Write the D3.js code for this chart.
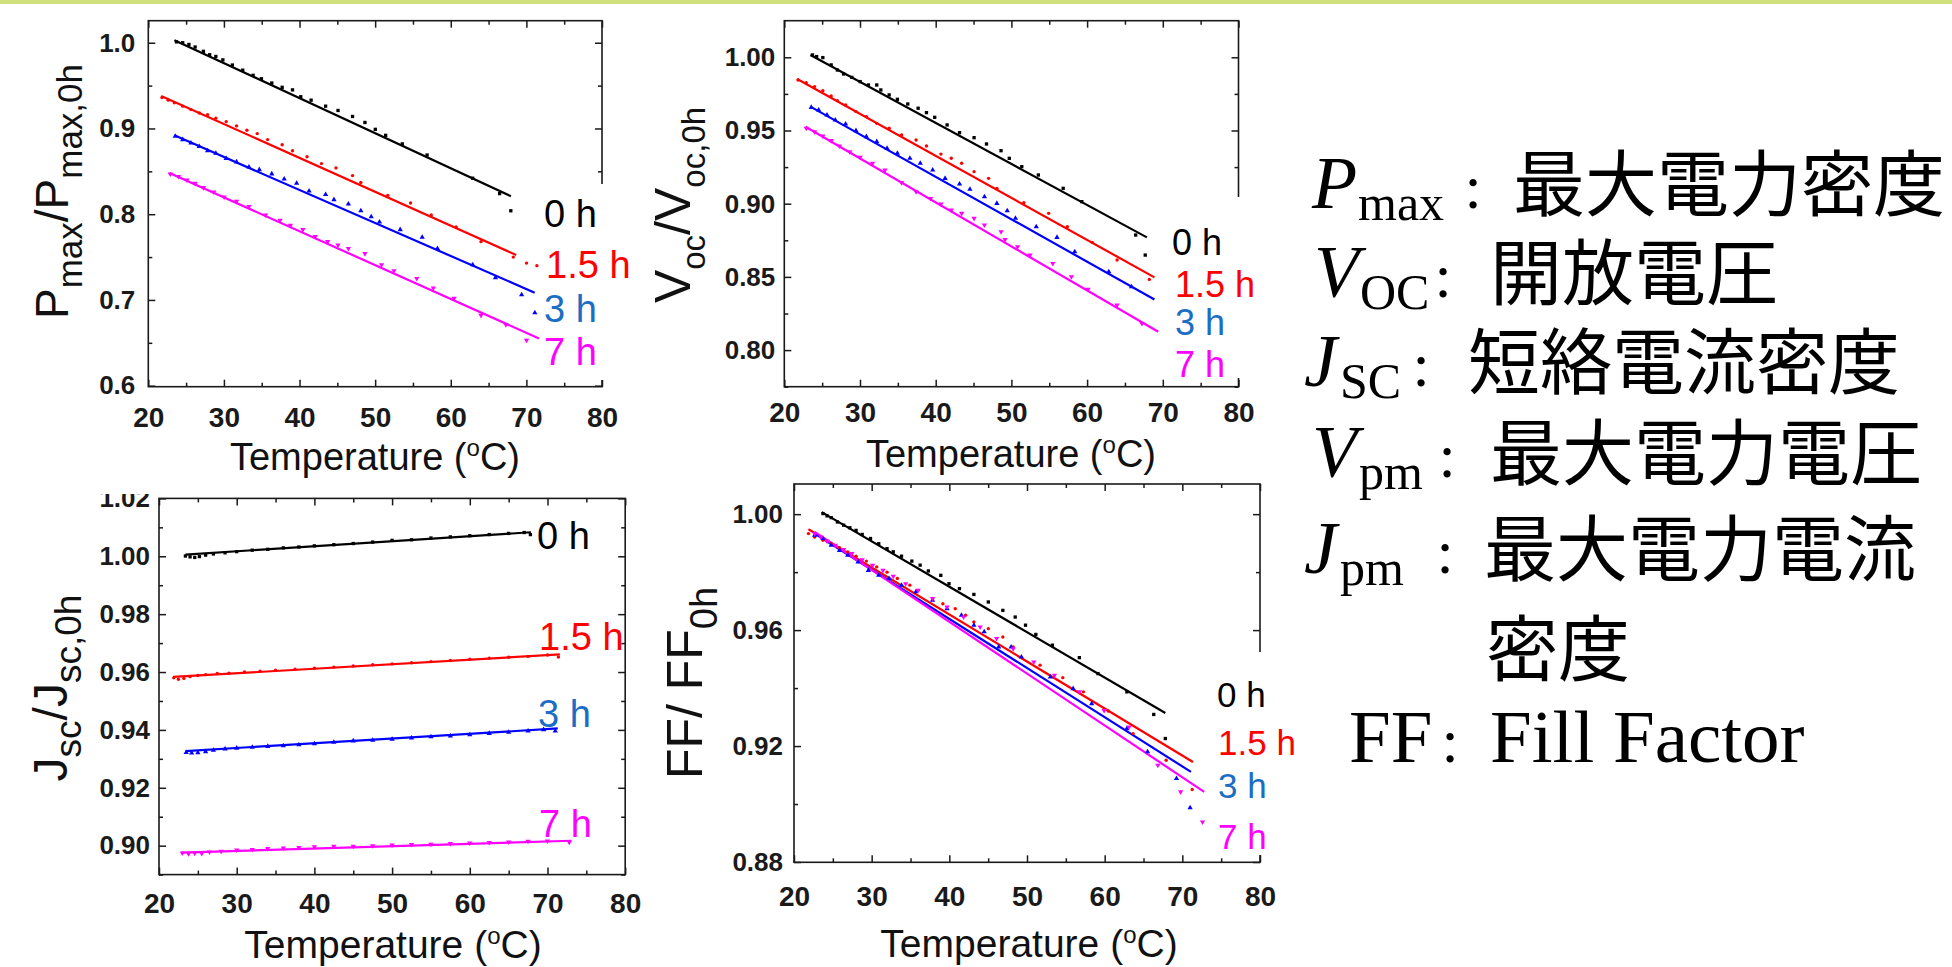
<!DOCTYPE html>
<html>
<head>
<meta charset="utf-8">
<script src="https://cdn.jsdelivr.net/npm/d3@7"></script>
<style>
    body { margin: 0; background: #fff; }
    svg { display: block; }
</style>
</head>
<body>
<svg id="chart" width="1952" height="967"></svg>
<script>

// ---- shared axis values
const xTicks = [20, 30, 40, 50, 60, 70, 80]
const xMinor = [25, 35, 45, 55, 65, 75]
const seriesNames = ['0 h', '1.5 h', '3 h', '7 h']
const lineColors = ['#000000', '#ff0000', '#0000ff', '#ff00ff']
const labelColors = ['#000000', '#ff0000', '#1c6dc4', '#ff00ff']

// ---- Pmax / Pmax,0h
const pmaxTicks = [0.6, 0.7, 0.8, 0.9, 1.0]
const pmaxMinor = [0.65, 0.75, 0.85, 0.95]
const pmaxFits = [
    [[23.45, 1.003], [67.95, 0.821]],
    [[21.7, 0.938], [68.65, 0.7524]],
    [[23.45, 0.892], [71.1, 0.7085]],
    [[22.8, 0.848], [71.67, 0.655]]
]
const pmax0h = [[23.73,1.001],[24.55,1.000],[25.37,0.998],[26.19,0.995],[27.29,0.990],[28.11,0.986],[28.93,0.984],[29.86,0.980],[31.12,0.974],[32.49,0.968],[33.86,0.962],[34.96,0.958],[36.33,0.953],[37.70,0.948],[39.07,0.945],[40.16,0.937],[41.53,0.933],[43.45,0.926],[45.09,0.921],[47.01,0.914],[48.65,0.907],[50.02,0.899],[51.39,0.892],[53.59,0.882],[56.87,0.869],[62.90,0.842],[66.46,0.824],[67.94,0.804]]
const pmax15h = [[21.81,0.936],[22.63,0.933],[23.45,0.930],[24.55,0.926],[25.64,0.922],[26.74,0.918],[27.84,0.916],[28.93,0.912],[30.30,0.908],[31.67,0.903],[33.04,0.898],[34.41,0.894],[35.78,0.887],[37.70,0.881],[39.07,0.874],[40.99,0.867],[42.90,0.859],[44.82,0.854],[47.01,0.845],[48.11,0.837],[51.67,0.822],[54.68,0.813],[57.42,0.799],[60.71,0.785],[64.00,0.768],[68.27,0.750],[70.02,0.743],[71.39,0.740]]
const pmax3h = [[23.56,0.891],[24.55,0.887],[25.64,0.883],[26.74,0.879],[27.84,0.874],[28.93,0.871],[30.30,0.865],[31.67,0.861],[33.31,0.855],[34.68,0.852],[36.33,0.847],[37.97,0.841],[39.62,0.836],[41.26,0.827],[43.45,0.823],[44.55,0.817],[46.46,0.812],[48.11,0.804],[49.48,0.797],[50.57,0.791],[53.31,0.782],[56.22,0.773],[58.24,0.760],[62.90,0.741],[65.91,0.726],[69.37,0.706],[71.12,0.685]]
const pmax7h = [[22.90,0.847],[24.00,0.844],[25.10,0.840],[26.19,0.836],[27.29,0.831],[28.66,0.826],[30.03,0.820],[31.67,0.815],[33.31,0.809],[35.51,0.799],[37.42,0.793],[38.79,0.787],[40.44,0.782],[42.08,0.774],[43.72,0.768],[45.09,0.764],[46.46,0.760],[48.65,0.754],[50.85,0.741],[52.49,0.734],[55.50,0.725],[57.70,0.714],[60.44,0.702],[64.00,0.682],[67.29,0.671],[70.02,0.653]]

// ---- Voc / Voc,0h
const vocTicks = [0.80, 0.85, 0.90, 0.95, 1.00]
const vocMinor = [0.775, 0.825, 0.875, 0.925, 0.975]
const vocFits = [
    [[23.45, 1.0016], [67.9, 0.877]],
    [[21.7, 0.9852], [68.9, 0.8497]],
    [[23.45, 0.9663], [68.9, 0.8346]],
    [[22.8, 0.9526], [69.4, 0.8125]]
]
const voc0h = [[23.72,1.0016],[24.27,1.0005],[25.09,0.9998],[26.19,0.9948],[27.01,0.9913],[27.83,0.9886],[28.92,0.9863],[30.02,0.9834],[31.11,0.9811],[32.21,0.9811],[32.75,0.9777],[33.85,0.9743],[34.94,0.9713],[36.31,0.9681],[37.68,0.9652],[38.78,0.9622],[39.87,0.9590],[41.51,0.9538],[43.15,0.9485],[45.07,0.9451],[46.71,0.9408],[48.63,0.9362],[49.72,0.9310],[51.37,0.9253],[53.56,0.9196],[56.84,0.9105],[59.30,0.9014],[66.42,0.8786],[67.68,0.8649]]
const voc15h = [[21.81,0.9845],[22.90,0.9827],[24.00,0.9800],[25.09,0.9772],[26.19,0.9736],[27.01,0.9704],[28.10,0.9674],[29.47,0.9629],[30.84,0.9595],[32.21,0.9549],[33.85,0.9515],[35.49,0.9469],[37.41,0.9435],[38.78,0.9394],[40.69,0.9339],[42.06,0.9310],[43.43,0.9276],[45.07,0.9219],[46.99,0.9173],[48.08,0.9105],[51.64,0.9007],[54.92,0.8934],[57.39,0.8843],[60.67,0.8736],[63.96,0.8615],[68.22,0.8483]]
const voc3h = [[23.56,0.9658],[24.54,0.9640],[25.64,0.9606],[26.73,0.9572],[28.10,0.9544],[29.47,0.9499],[30.84,0.9458],[32.21,0.9424],[33.58,0.9378],[34.94,0.9344],[36.59,0.9310],[37.96,0.9276],[39.60,0.9230],[41.24,0.9173],[43.15,0.9134],[44.52,0.9098],[46.44,0.9048],[48.08,0.9002],[49.45,0.8952],[50.54,0.8900],[53.28,0.8843],[56.02,0.8770],[58.37,0.8672],[62.86,0.8535],[65.87,0.8433]]
const voc7h = [[22.90,0.9515],[24.00,0.9492],[25.09,0.9462],[26.19,0.9431],[27.28,0.9394],[28.65,0.9355],[30.02,0.9317],[31.66,0.9276],[33.30,0.9230],[35.49,0.9144],[37.41,0.9082],[39.32,0.9036],[40.69,0.8998],[42.06,0.8957],[43.43,0.8934],[45.07,0.8900],[46.44,0.8854],[48.63,0.8809],[49.17,0.8756],[50.82,0.8706],[52.46,0.8649],[55.47,0.8592],[57.93,0.8501],[60.12,0.8415],[63.96,0.8308],[67.24,0.8182]]

// ---- Jsc / Jsc,0h
const jscTicks = [0.90, 0.92, 0.94, 0.96, 0.98, 1.00, 1.02]
const jscMinor = [0.89, 0.91, 0.93, 0.95, 0.97, 0.99, 1.01]
const jscFits = [
    [[23.41, 1.0006], [67.86, 1.0083]],
    [[21.81, 0.9583], [71.59, 0.9661]],
    [[23.41, 0.9327], [71.32, 0.9405]],
    [[22.87, 0.8976], [73.08, 0.9017]]
]
const jsc0h = [[23.4,1.0001],[24.0,0.9998],[24.6,0.9996],[25.2,0.9999],[26.0,1.0004],[27.0,1.0008],[28.5,1.0012],[30.0,1.0016],[32.0,1.0021],[34.0,1.0024],[36.0,1.0029],[38.0,1.0032],[40.0,1.0036],[42.5,1.0040],[45.0,1.0044],[47.5,1.0049],[50.0,1.0055],[52.5,1.0057],[55.0,1.0063],[57.5,1.0067],[60.0,1.0071],[62.5,1.0075],[65.0,1.0079],[67.0,1.0082],[67.8,1.0075]]
const jsc15h = [[21.9,0.9580],[22.5,0.9575],[23.2,0.9578],[24.0,0.9584],[25.0,0.9588],[26.0,0.9591],[27.5,0.9595],[29.0,0.9596],[31.0,0.9600],[33.0,0.9603],[35.0,0.9606],[37.5,0.9610],[40.0,0.9613],[42.5,0.9617],[45.0,0.9621],[47.5,0.9625],[50.0,0.9628],[52.5,0.9632],[55.0,0.9636],[57.5,0.9640],[60.0,0.9644],[62.5,0.9648],[65.0,0.9651],[67.5,0.9654],[70.0,0.9659],[71.4,0.9652]]
const jsc3h = [[23.5,0.9322],[24.2,0.9320],[25.0,0.9321],[26.0,0.9325],[27.0,0.9330],[28.5,0.9334],[30.0,0.9337],[32.0,0.9340],[34.0,0.9343],[36.0,0.9345],[38.0,0.9349],[40.0,0.9352],[42.5,0.9357],[45.0,0.9362],[47.5,0.9364],[50.0,0.9368],[52.5,0.9372],[55.0,0.9376],[57.5,0.9379],[60.0,0.9383],[62.5,0.9388],[65.0,0.9392],[67.5,0.9396],[69.5,0.9401],[71.0,0.9396]]
const jsc7h = [[23.0,0.8975],[23.8,0.8972],[24.6,0.8974],[25.5,0.8973],[26.5,0.8978],[28.0,0.8981],[30.0,0.8985],[32.0,0.8987],[34.0,0.8990],[36.0,0.8992],[38.0,0.8994],[40.0,0.8996],[42.5,0.8998],[45.0,0.8998],[47.5,0.9000],[50.0,0.9002],[52.5,0.9004],[55.0,0.9005],[57.5,0.9007],[60.0,0.9009],[62.5,0.9011],[65.0,0.9013],[67.5,0.9015],[70.0,0.9016],[72.8,0.9012]]

// ---- FF / FF0h
const ffTicks = [0.88, 0.92, 0.96, 1.00]
const ffMinor = [0.90, 0.94, 0.98]
const ffFits = [
    [[23.57, 1.0007], [67.81, 0.9314]],
    [[21.86, 0.9948], [71.37, 0.9145]],
    [[22.66, 0.9933], [71.11, 0.9111]],
    [[22.66, 0.9939], [72.81, 0.9042]]
]
const ff0h = [[23.73,1.0002],[24.26,0.9994],[24.79,0.9988],[25.59,0.9973],[26.39,0.9962],[27.19,0.9953],[27.99,0.9944],[28.78,0.9930],[29.85,0.9916],[30.91,0.9898],[31.98,0.9881],[32.78,0.9870],[33.84,0.9855],[35.17,0.9838],[36.24,0.9824],[37.30,0.9804],[38.90,0.9789],[39.96,0.9760],[41.30,0.9743],[43.16,0.9723],[45.02,0.9697],[46.89,0.9668],[48.48,0.9645],[49.81,0.9617],[51.14,0.9585],[53.27,0.9548],[56.74,0.9505],[59.13,0.9450],[62.86,0.9387],[66.32,0.9309],[67.81,0.9226]]
const ff15h = [[21.86,0.9933],[22.66,0.9921],[23.73,0.9910],[24.79,0.9898],[25.86,0.9884],[26.92,0.9870],[27.99,0.9855],[29.32,0.9838],[30.65,0.9818],[31.98,0.9800],[33.31,0.9778],[34.91,0.9755],[35.97,0.9737],[37.84,0.9709],[39.17,0.9691],[40.76,0.9674],[42.09,0.9651],[43.16,0.9628],[45.02,0.9605],[46.89,0.9576],[48.22,0.9542],[51.68,0.9479],[54.61,0.9436],[57.27,0.9387],[60.46,0.9321],[63.66,0.9243],[67.92,0.9151],[71.27,0.9050]]
const ff3h = [[22.66,0.9927],[23.73,0.9916],[24.79,0.9893],[25.86,0.9875],[26.92,0.9858],[28.25,0.9835],[29.58,0.9806],[30.91,0.9789],[32.24,0.9778],[33.84,0.9755],[35.70,0.9732],[37.84,0.9703],[39.70,0.9674],[41.56,0.9651],[43.16,0.9617],[44.49,0.9594],[46.35,0.9542],[47.95,0.9542],[49.28,0.9507],[53.01,0.9438],[55.94,0.9398],[58.33,0.9346],[62.86,0.9260],[65.52,0.9180],[69.25,0.9088],[71.00,0.8987]]
const ff7h = [[22.66,0.9933],[23.46,0.9921],[24.26,0.9907],[25.32,0.9893],[26.39,0.9878],[27.45,0.9864],[28.78,0.9843],[30.12,0.9824],[31.45,0.9806],[32.78,0.9786],[34.38,0.9760],[35.97,0.9737],[37.84,0.9709],[39.70,0.9680],[41.83,0.9645],[43.96,0.9611],[46.09,0.9571],[48.22,0.9536],[50.88,0.9490],[53.54,0.9444],[56.74,0.9387],[59.93,0.9323],[63.13,0.9266],[66.85,0.9134],[69.78,0.9042],[72.60,0.8938]]

// ---- right hand glossary
const glossSymbols = ['P', 'V', 'J', 'V', 'J']
const glossSubs = ['max', 'OC', 'SC', 'pm', 'pm']
const glossTexts = ['最大電力密度', '開放電圧', '短絡電流密度', '最大電力電圧', '最大電力電流']


const svg = d3.select('#chart')
const sansFont = '"Liberation Sans", Arial, Helvetica, sans-serif'
const serifFont = '"Liberation Serif", "Times New Roman", serif'
const cjkFont = '"Noto Sans CJK JP", "Noto Sans CJK SC", sans-serif'
const axisColor = '#1a1a1a'

// thin green bar on top of the slide
svg.append('rect')
    .attr('x', 0).attr('y', 0)
    .attr('width', 1952).attr('height', 4)
    .attr('fill', '#cfe07c')

const panels = [
    {
        left: 148.3, right: 602, top: 20.7, bottom: 386.7, yDomain: [0.5988, 1.0257],
        ticks: pmaxTicks, minor: pmaxMinor, fmt: '.1f', fits: pmaxFits,
        points: [pmax0h, pmax15h, pmax3h, pmax7h],
        yPad: 13, xPad: 20.4,
        labelPos: [[544, 227], [546, 278], [544, 322], [544, 365]], labelSize: 38,
        cover: [541, 184, 100, 196],
        title: { main1: 'P', sub1: 'max', main2: '/P', sub2: 'max,0h', size: 46, subSize: 35, bx: 68, cy: 191.5 },
        xTitle: [375, 470], xTitleSize: 38
    },
    {
        left: 784.3, right: 1238.5, top: 20.7, bottom: 386.7, yDomain: [0.775, 1.025],
        ticks: vocTicks, minor: vocMinor, fmt: '.2f', fits: vocFits,
        points: [voc0h, voc15h, voc3h, voc7h],
        yPad: 9, xPad: 15.1,
        labelPos: [[1172, 255], [1175, 296.7], [1175, 335], [1175, 376.7]], labelSize: 36,
        cover: [1163, 197, 90, 181],
        title: { main1: 'V', sub1: 'oc', main2: '/V', sub2: 'oc,0h', size: 50, subSize: 33, bx: 690, cy: 205 },
        xTitle: [1011, 466.7], xTitleSize: 38
    },
    {
        left: 159, right: 625.2, top: 498.4, bottom: 874.6, yDomain: [0.89, 1.02],
        ticks: jscTicks, minor: jscMinor, fmt: '.2f', fits: jscFits,
        points: [jsc0h, jsc15h, jsc3h, jsc7h],
        yPad: 9, xPad: 18.5,
        labelPos: [[537, 549], [539, 650], [538, 727], [539, 837]], labelSize: 38,
        cover: null, clipTop: 494,
        title: { main1: 'J', sub1: 'sc', main2: '/J', sub2: 'sc,0h', size: 48, subSize: 37, bx: 67, cy: 688 },
        xTitle: [393, 958], xTitleSize: 39
    },
    {
        left: 794, right: 1260, top: 484, bottom: 862.3, yDomain: [0.8799, 1.0104],
        ticks: ffTicks, minor: ffMinor, fmt: '.2f', fits: ffFits,
        points: [ff0h, ff15h, ff3h, ff7h],
        yPad: 11, xPad: 23.8,
        labelPos: [[1217, 707], [1218, 755], [1218, 798], [1218, 849]], labelSize: 35,
        cover: [1208, 652, 95, 203],
        title: { main1: 'FF/ FF', sub1: '0h', main2: '', sub2: '', size: 50, subSize: 38, bx: 702, cy: 683 },
        xTitle: [1029, 956.7], xTitleSize: 39
    }
]

const symbolTypes = [d3.symbolSquare, d3.symbolCircle, d3.symbolTriangle, d3.symbolTriangle]
const symbolSizes = [11, 9, 12, 12]
const symbolRotate = [0, 0, 0, 180]


function tickMarks(g, axisFn, scale, values, size, transform) {
    g.append('g')
        .attr('transform', transform)
        .call(axisFn(scale).tickValues(values).tickSizeInner(-size).tickSizeOuter(0).tickFormat(''))
        .call(a => a.select('.domain').remove())
        .selectAll('line')
        .attr('stroke', axisColor)
        .attr('stroke-width', 1.5)
}


function drawPanel(p, idx) {

    const g = svg.append('g')

    if (p.clipTop) {
        svg.append('clipPath').attr('id', 'clip' + idx)
            .append('rect')
            .attr('x', 0).attr('y', p.clipTop)
            .attr('width', 1952).attr('height', 967 - p.clipTop)
        g.attr('clip-path', 'url(#clip' + idx + ')')
    }

    const x = d3.scaleLinear().domain([20, 80]).range([p.left, p.right])
    const y = d3.scaleLinear().domain(p.yDomain).range([p.bottom, p.top])

    // frame
    g.append('rect')
        .attr('x', p.left).attr('y', p.top)
        .attr('width', p.right - p.left).attr('height', p.bottom - p.top)
        .attr('fill', 'none')
        .attr('stroke', axisColor)
        .attr('stroke-width', 1.6)

    // inward ticks on all four sides
    tickMarks(g, d3.axisBottom, x, xTicks, 7, `translate(0,${p.bottom})`)
    tickMarks(g, d3.axisBottom, x, xMinor, 4, `translate(0,${p.bottom})`)
    tickMarks(g, d3.axisTop, x, xTicks, 7, `translate(0,${p.top})`)
    tickMarks(g, d3.axisTop, x, xMinor, 4, `translate(0,${p.top})`)
    tickMarks(g, d3.axisLeft, y, p.ticks, 7, `translate(${p.left},0)`)
    tickMarks(g, d3.axisLeft, y, p.minor, 4, `translate(${p.left},0)`)
    tickMarks(g, d3.axisRight, y, p.ticks, 7, `translate(${p.right},0)`)
    tickMarks(g, d3.axisRight, y, p.minor, 4, `translate(${p.right},0)`)

    // tick labels
    g.append('g')
        .attr('transform', `translate(0,${p.bottom})`)
        .call(d3.axisBottom(x).tickValues(xTicks).tickSize(0).tickPadding(p.xPad).tickFormat(d3.format('d')))
        .call(a => a.select('.domain').remove())
        .selectAll('text')
        .attr('font-family', sansFont)
        .attr('font-size', 28)
        .attr('font-weight', 'bold')
        .attr('fill', axisColor)

    g.append('g')
        .attr('transform', `translate(${p.left},0)`)
        .call(d3.axisLeft(y).tickValues(p.ticks).tickSize(0).tickPadding(p.yPad).tickFormat(d3.format(p.fmt)))
        .call(a => a.select('.domain').remove())
        .selectAll('text')
        .attr('font-family', sansFont)
        .attr('font-size', 26)
        .attr('font-weight', 'bold')
        .attr('fill', axisColor)

    // fitted lines
    g.selectAll('.fit')
        .data(p.fits)
        .enter()
        .append('line')
        .attr('class', 'fit')
        .attr('x1', d => x(d[0][0])).attr('y1', d => y(d[0][1]))
        .attr('x2', d => x(d[1][0])).attr('y2', d => y(d[1][1]))
        .attr('stroke', (d, i) => lineColors[i])
        .attr('stroke-width', 2.2)

    // measured points
    p.points.forEach((pts, i) => {
        g.append('g')
            .selectAll('path')
            .data(pts)
            .enter()
            .append('path')
            .attr('d', d3.symbol().type(symbolTypes[i]).size(symbolSizes[i]))
            .attr('transform', d => `translate(${x(d[0])},${y(d[1])}) rotate(${symbolRotate[i]})`)
            .attr('fill', lineColors[i])
    })

    // white box that hides the right frame behind the labels
    if (p.cover) {
        g.append('rect')
            .attr('x', p.cover[0]).attr('y', p.cover[1])
            .attr('width', p.cover[2]).attr('height', p.cover[3])
            .attr('fill', '#fff')
    }

    // series labels
    g.selectAll('.serieslabel')
        .data(seriesNames)
        .enter()
        .append('text')
        .attr('class', 'serieslabel')
        .attr('x', (d, i) => p.labelPos[i][0])
        .attr('y', (d, i) => p.labelPos[i][1])
        .attr('font-family', sansFont)
        .attr('font-size', p.labelSize)
        .attr('fill', (d, i) => labelColors[i])
        .text(d => d)

    // y title (rotated, with subscripts)
    const t = p.title
    const yt = g.append('text')
        .attr('transform', `translate(${t.bx},${t.cy}) rotate(-90)`)
        .attr('text-anchor', 'middle')
        .attr('font-family', sansFont)
        .attr('font-size', t.size)
        .attr('fill', '#111')
    const shift = t.size * 0.3
    yt.append('tspan').text(t.main1)
    yt.append('tspan').attr('font-size', t.subSize).attr('dy', shift).text(t.sub1)
    if (t.main2) {
        yt.append('tspan').attr('dy', -shift).text(t.main2)
        yt.append('tspan').attr('font-size', t.subSize).attr('dy', shift).text(t.sub2)
    }

    // x title
    const xt = g.append('text')
        .attr('x', p.xTitle[0]).attr('y', p.xTitle[1])
        .attr('text-anchor', 'middle')
        .attr('font-family', sansFont)
        .attr('font-size', p.xTitleSize)
        .attr('fill', '#111')
    xt.append('tspan').text('Temperature (')
    xt.append('tspan').attr('font-size', 24).attr('dy', -14).text('o')
    xt.append('tspan').attr('dy', 14).text('C)')
}

panels.forEach(drawPanel)


// ---- glossary on the right
const glossPos = [
    { sx: 1312, subx: 1358, cx: 1473, tx: 1513, b: 208 },
    { sx: 1314, subx: 1360, cx: 1443, tx: 1490, b: 297 },
    { sx: 1304, subx: 1340, cx: 1421, tx: 1468, b: 386 },
    { sx: 1312, subx: 1359, cx: 1447, tx: 1490, b: 477 },
    { sx: 1304, subx: 1340, cx: 1445, tx: 1484, b: 573 }
]

const gloss = svg.append('g')

glossSymbols.forEach((s, i) => {
    const pos = glossPos[i]
    gloss.append('text')
        .attr('x', pos.sx).attr('y', pos.b)
        .attr('font-family', serifFont)
        .attr('font-style', 'italic')
        .attr('font-size', 74)
        .text(s)
    gloss.append('text')
        .attr('x', pos.subx).attr('y', pos.b + 12)
        .attr('font-family', serifFont)
        .attr('font-size', 50)
        .text(glossSubs[i])
    gloss.append('text')
        .attr('x', pos.cx).attr('y', pos.b)
        .attr('text-anchor', 'middle')
        .attr('font-family', serifFont)
        .attr('font-size', 62)
        .text(':')
    gloss.append('text')
        .attr('x', pos.tx).attr('y', pos.b + 2)
        .attr('font-family', cjkFont)
        .attr('font-size', 72)
        .text(glossTexts[i])
})

// continuation line of the last entry
gloss.append('text')
    .attr('x', 1486).attr('y', 675)
    .attr('font-family', cjkFont)
    .attr('font-size', 72)
    .text('密度')

gloss.append('text')
    .attr('x', 1349).attr('y', 762)
    .attr('font-family', serifFont)
    .attr('font-size', 75)
    .text('FF')
gloss.append('text')
    .attr('x', 1450).attr('y', 762)
    .attr('text-anchor', 'middle')
    .attr('font-family', serifFont)
    .attr('font-size', 62)
    .text(':')
gloss.append('text')
    .attr('x', 1490).attr('y', 762)
    .attr('font-family', serifFont)
    .attr('font-size', 75)
    .text('Fill Factor')

</script>
</body>
</html>
